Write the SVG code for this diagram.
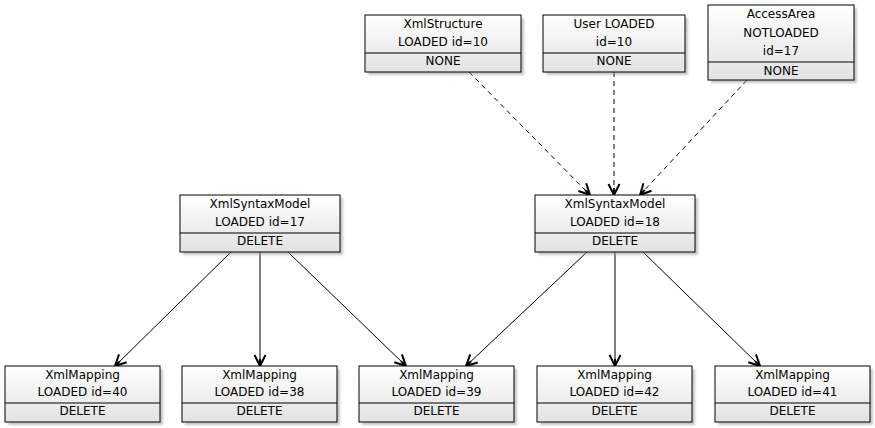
<svg xmlns="http://www.w3.org/2000/svg" width="875" height="428" viewBox="0 0 875 428">
<defs>
<linearGradient id="g" x1="0" y1="0" x2="0" y2="1">
<stop offset="0" stop-color="#ffffff"/>
<stop offset="1" stop-color="#e2e2e2"/>
</linearGradient>
<filter id="sh" x="-10%" y="-10%" width="130%" height="130%">
<feGaussianBlur stdDeviation="1.2"/>
</filter>
<marker id="ah" markerWidth="14" markerHeight="14" refX="12" refY="7" orient="auto" markerUnits="userSpaceOnUse">
<path d="M1,1.5 L12,7 L1,12.5 M12,7 L5,7" fill="none" stroke="#000" stroke-width="2"/>
</marker>
</defs>
<style>
.sh{fill:#9a9a9a;opacity:0.55;filter:url(#sh)}
.bx{fill:url(#g);stroke:#000;stroke-width:1}
.dv{stroke:#000;stroke-width:1}
text{font-family:"DejaVu Sans",Verdana,sans-serif;font-size:12px;fill:#000;text-anchor:middle}
.c{stroke:#000;stroke-width:1;fill:none;marker-end:url(#ah)}
.d{stroke-dasharray:5,4}
</style>
<rect width="875" height="428" fill="#ffffff"/>
<g id="connectors">
<line class="c d" x1="469" y1="72" x2="590" y2="195"/>
<line class="c d" x1="614" y1="72" x2="614" y2="195"/>
<line class="c d" x1="747" y1="80" x2="640" y2="195"/>
<line class="c" x1="231" y1="252" x2="115" y2="366"/>
<line class="c" x1="260" y1="252" x2="260" y2="366"/>
<line class="c" x1="288" y1="252" x2="406" y2="366"/>
<line class="c" x1="587" y1="252" x2="466" y2="366"/>
<line class="c" x1="615" y1="252" x2="615" y2="366"/>
<line class="c" x1="643" y1="252" x2="760" y2="366"/>
</g>
<g id="xmlstructure">
<rect class="sh" x="368" y="18" width="156" height="57"/>
<rect class="bx" x="365" y="15" width="156" height="57"/>
<line class="dv" x1="365" y1="53" x2="521" y2="53"/>
<text x="443" y="28">XmlStructure</text>
<text x="443" y="46">LOADED id=10</text>
<text x="443" y="65">NONE</text>
</g>
<g id="user">
<rect class="sh" x="546" y="18" width="142" height="57"/>
<rect class="bx" x="543" y="15" width="142" height="57"/>
<line class="dv" x1="543" y1="53" x2="685" y2="53"/>
<text x="614" y="28">User LOADED</text>
<text x="614" y="46">id=10</text>
<text x="614" y="65">NONE</text>
</g>
<g id="accessarea">
<rect class="sh" x="711" y="8" width="146" height="75"/>
<rect class="bx" x="708" y="5" width="146" height="75"/>
<line class="dv" x1="708" y1="62" x2="854" y2="62"/>
<text x="781" y="18">AccessArea</text>
<text x="781" y="37">NOTLOADED</text>
<text x="781" y="55">id=17</text>
<text x="781" y="75">NONE</text>
</g>
<g id="syntaxmodel17">
<rect class="sh" x="183" y="198" width="160" height="57"/>
<rect class="bx" x="180" y="195" width="160" height="57"/>
<line class="dv" x1="180" y1="233" x2="340" y2="233"/>
<text x="260" y="208">XmlSyntaxModel</text>
<text x="260" y="226">LOADED id=17</text>
<text x="260" y="245">DELETE</text>
</g>
<g id="syntaxmodel18">
<rect class="sh" x="538" y="198" width="160" height="57"/>
<rect class="bx" x="535" y="195" width="160" height="57"/>
<line class="dv" x1="535" y1="233" x2="695" y2="233"/>
<text x="615" y="208">XmlSyntaxModel</text>
<text x="615" y="226">LOADED id=18</text>
<text x="615" y="245">DELETE</text>
</g>
<g id="mapping40">
<rect class="sh" x="8" y="369" width="155" height="56"/>
<rect class="bx" x="5" y="366" width="155" height="56"/>
<line class="dv" x1="5" y1="403" x2="160" y2="403"/>
<text x="82.5" y="379">XmlMapping</text>
<text x="82.5" y="396">LOADED id=40</text>
<text x="82.5" y="415">DELETE</text>
</g>
<g id="mapping38">
<rect class="sh" x="185" y="369" width="155" height="56"/>
<rect class="bx" x="182" y="366" width="155" height="56"/>
<line class="dv" x1="182" y1="403" x2="337" y2="403"/>
<text x="259.5" y="379">XmlMapping</text>
<text x="259.5" y="396">LOADED id=38</text>
<text x="259.5" y="415">DELETE</text>
</g>
<g id="mapping39">
<rect class="sh" x="362" y="369" width="155" height="56"/>
<rect class="bx" x="359" y="366" width="155" height="56"/>
<line class="dv" x1="359" y1="403" x2="514" y2="403"/>
<text x="436.5" y="379">XmlMapping</text>
<text x="436.5" y="396">LOADED id=39</text>
<text x="436.5" y="415">DELETE</text>
</g>
<g id="mapping42">
<rect class="sh" x="540" y="369" width="155" height="56"/>
<rect class="bx" x="537" y="366" width="155" height="56"/>
<line class="dv" x1="537" y1="403" x2="692" y2="403"/>
<text x="614.5" y="379">XmlMapping</text>
<text x="614.5" y="396">LOADED id=42</text>
<text x="614.5" y="415">DELETE</text>
</g>
<g id="mapping41">
<rect class="sh" x="718" y="369" width="155" height="56"/>
<rect class="bx" x="715" y="366" width="155" height="56"/>
<line class="dv" x1="715" y1="403" x2="870" y2="403"/>
<text x="792.5" y="379">XmlMapping</text>
<text x="792.5" y="396">LOADED id=41</text>
<text x="792.5" y="415">DELETE</text>
</g>
</svg>
